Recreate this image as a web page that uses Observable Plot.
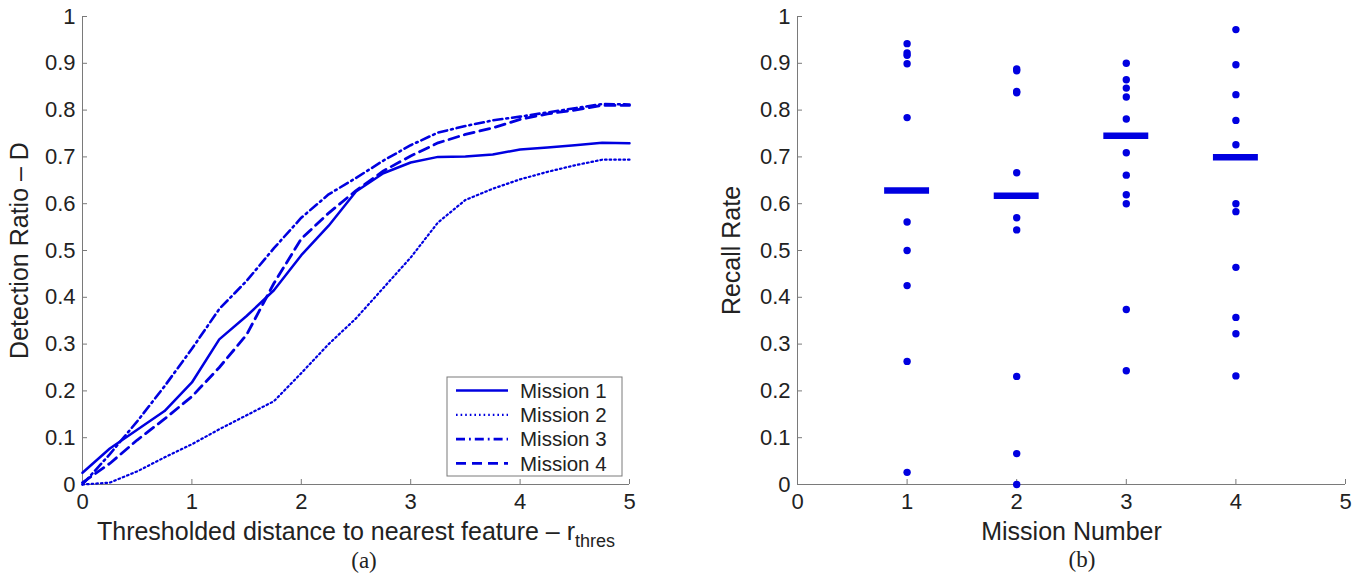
<!DOCTYPE html>
<html>
<head>
<meta charset="utf-8">
<script src="https://cdn.jsdelivr.net/npm/d3@7"></script>
<script src="https://cdn.jsdelivr.net/npm/@observablehq/plot@0.6"></script>
<style>
  html, body { margin: 0; padding: 0; background: #fff; }
  #wrap { position: relative; width: 1367px; height: 576px; overflow: hidden; font-family: "Liberation Sans", Arial, sans-serif; }
  .panel { position: absolute; top: 0; }
  .cap { position: absolute; width: 80px; text-align: center; font-family: "Liberation Serif", "Times New Roman", serif; font-size: 23px; color: #222; line-height: 24px; }
  #legend { position: absolute; }
  [aria-label="x-axis label"] text, [aria-label="y-axis label"] text { font-size: 25px; }
</style>
</head>
<body>
<div id="wrap"></div>
<script>
// ---------- Data: panel (a) ----------
const rThres   = [0, 0.25, 0.5, 0.75, 1, 1.25, 1.5, 1.75, 2, 2.25, 2.5, 2.75, 3, 3.25, 3.5, 3.75, 4, 4.25, 4.5, 4.75, 5];
const mission1 = [0.025, 0.077, 0.117, 0.157, 0.218, 0.310, 0.360, 0.415, 0.490, 0.553, 0.626, 0.665, 0.688, 0.700, 0.701, 0.705, 0.716, 0.720, 0.725, 0.730, 0.729];
const mission2 = [0.000, 0.004, 0.028, 0.058, 0.086, 0.118, 0.148, 0.178, 0.238, 0.300, 0.355, 0.420, 0.485, 0.560, 0.608, 0.632, 0.652, 0.668, 0.682, 0.694, 0.694];
const mission3 = [0.000, 0.065, 0.135, 0.210, 0.290, 0.375, 0.435, 0.505, 0.570, 0.620, 0.655, 0.692, 0.725, 0.752, 0.766, 0.778, 0.786, 0.795, 0.804, 0.813, 0.812];
const mission4 = [0.004, 0.045, 0.095, 0.140, 0.188, 0.250, 0.320, 0.430, 0.525, 0.580, 0.628, 0.670, 0.702, 0.730, 0.748, 0.762, 0.780, 0.792, 0.800, 0.810, 0.810];
const seriesNames = ["Mission 1", "Mission 2", "Mission 3", "Mission 4"];

// ---------- Data: panel (b) ----------
const missionNumbers = [1, 2, 3, 4];
const recall1 = [0.942, 0.922, 0.917, 0.899, 0.784, 0.561, 0.500, 0.425, 0.263, 0.026];
const recall2 = [0.888, 0.884, 0.840, 0.837, 0.666, 0.570, 0.544, 0.231, 0.066, 0.000];
const recall3 = [0.900, 0.865, 0.847, 0.828, 0.781, 0.709, 0.661, 0.619, 0.600, 0.374, 0.243];
const recall4 = [0.972, 0.897, 0.833, 0.778, 0.726, 0.600, 0.583, 0.464, 0.357, 0.322, 0.232];
const medianRecall = [0.628, 0.617, 0.745, 0.699];

// ---------- Tick labels ----------
const yTicks = [0, 0.1, 0.2, 0.3, 0.4, 0.5, 0.6, 0.7, 0.8, 0.9, 1];
const xTicks = [0, 1, 2, 3, 4, 5];

// ---------- Styles ----------
const BLUE = "#0000e0";
const AXIS = "#7a7a7a";
const INK = "#222";
const lineDash = [undefined, "1.6,3", "9,4,1.8,4", "10,6"];
const lineWidth = [2.5, 2.2, 2.6, 2.8];
const seriesValues = [mission1, mission2, mission3, mission4];
const fmt = d => String(+d.toFixed(1));

function axisMarks(yLabel, xLabel, yLabelOffset, xLabelOffset) {
  return [
    Plot.ruleX([0], {stroke: AXIS, strokeWidth: 1}),
    Plot.ruleY([0], {stroke: AXIS, strokeWidth: 1}),
    Plot.axisY({ticks: yTicks, tickFormat: fmt, tickSize: -5, tickPadding: 12, stroke: AXIS, fill: INK,
      label: yLabel, labelAnchor: "center", labelOffset: yLabelOffset, labelArrow: "none"}),
    Plot.axisX({ticks: xTicks, tickFormat: d => String(d), tickSize: -5, tickPadding: 14, stroke: AXIS, fill: INK,
      label: xLabel, labelAnchor: "center", labelOffset: xLabelOffset, labelArrow: "none"})
  ];
}

const wrap = document.getElementById("wrap");

// ---------- Panel (a) ----------
const lineRows = seriesNames.map((name, i) => rThres.map((r, j) => ({series: name, r, v: seriesValues[i][j]})));
const left = Plot.plot({
  width: 660, height: 550,
  marginLeft: 82, marginRight: 31, marginTop: 16, marginBottom: 66,
  style: {fontFamily: "'Liberation Sans', Arial, sans-serif", fontSize: "22px", background: "transparent", overflow: "visible"},
  x: {domain: [0, 5]},
  y: {domain: [0, 1]},
  marks: [
    ...axisMarks("Detection Ratio \u2013 D", "Thresholded distance to nearest feature \u2013 r", 72, 55),
    ...lineRows.map((rows, i) => Plot.line(rows, {x: "r", y: "v", stroke: BLUE, strokeWidth: lineWidth[i], strokeDasharray: lineDash[i]}))
  ]
});
left.classList.add("panel");
left.style.left = "0px";
wrap.appendChild(left);

// subscript "thres" on the x label
const xl = left.querySelector('[aria-label="x-axis label"] text');
if (xl) {
  const ts = document.createElementNS("http://www.w3.org/2000/svg", "tspan");
  ts.textContent = "thres";
  ts.setAttribute("font-size", "18");
  ts.setAttribute("dy", "7");
  xl.appendChild(ts);
}

// legend for panel (a)
const lg = d3.select(wrap).append("svg").attr("id", "legend")
  .attr("width", 177).attr("height", 101)
  .style("left", "446px").style("top", "376px");
lg.append("rect").attr("x", 1).attr("y", 1).attr("width", 175).attr("height", 99)
  .attr("fill", "#fff").attr("stroke", AXIS).attr("stroke-width", 1);
seriesNames.forEach((name, i) => {
  const yy = 14.5 + i * 24.3;
  lg.append("line").attr("x1", 10).attr("x2", 62).attr("y1", yy).attr("y2", yy)
    .attr("stroke", BLUE).attr("stroke-width", lineWidth[i])
    .attr("stroke-dasharray", lineDash[i] || null);
  lg.append("text").attr("x", 74).attr("y", yy).attr("dy", "0.35em")
    .attr("font-family", "'Liberation Sans', Arial, sans-serif").attr("font-size", 20.5)
    .attr("fill", INK).text(name);
});

const capA = document.createElement("div");
capA.className = "cap"; capA.textContent = "(a)";
capA.style.left = (364 - 40) + "px"; capA.style.top = "549px";
wrap.appendChild(capA);

// ---------- Panel (b) ----------
const recallSets = [recall1, recall2, recall3, recall4];
const recallRows = missionNumbers.flatMap((m, i) => recallSets[i].map(v => ({m, v})));
const medianRows = missionNumbers.map((m, i) => ({m, v: medianRecall[i]}));
const right = Plot.plot({
  width: 667, height: 550,
  marginLeft: 97, marginRight: 22, marginTop: 16, marginBottom: 66,
  style: {fontFamily: "'Liberation Sans', Arial, sans-serif", fontSize: "22px", background: "transparent", overflow: "visible"},
  x: {domain: [0, 5]},
  y: {domain: [0, 1]},
  marks: [
    ...axisMarks("Recall Rate", "Mission Number", 75, 55),
    Plot.dot(recallRows, {x: "m", y: "v", r: 3.7, fill: BLUE, stroke: "none"}),
    Plot.ruleY(medianRows, {y: "v", x1: d => d.m - 0.205, x2: d => d.m + 0.205, stroke: BLUE, strokeWidth: 6.5})
  ]
});
right.classList.add("panel");
right.style.left = "700px";
wrap.appendChild(right);

const capB = document.createElement("div");
capB.className = "cap"; capB.textContent = "(b)";
capB.style.left = (1082 - 40) + "px"; capB.style.top = "548px";
wrap.appendChild(capB);
</script>
</body>
</html>
